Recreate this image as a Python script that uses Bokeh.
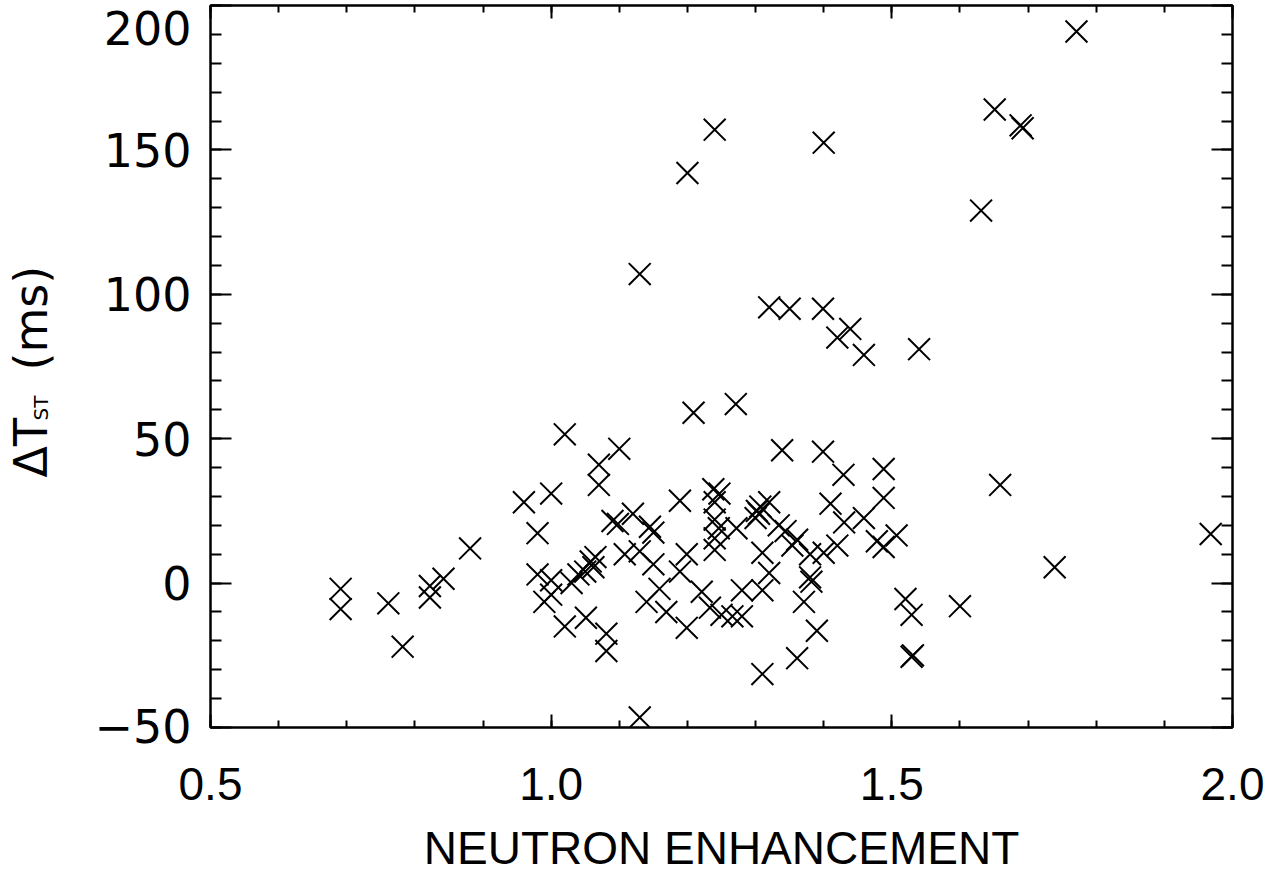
import numpy as np
from bokeh.plotting import figure
from bokeh.models import Range1d, LinearAxis, FixedTicker, ColumnDataSource
from bokeh.embed import file_html
from bokeh.resources import INLINE

# ---- data ----
neutron_enh = [
    1.771, 1.651, 1.689, 1.692, 1.240, 1.400, 1.200, 1.631, 1.130, 1.320,
    1.350, 1.399, 1.439, 1.420, 1.459, 1.540, 1.271, 1.209, 1.020, 1.100,
    1.339, 1.399, 1.070, 1.429, 1.488, 1.070, 1.659, 1.000, 0.960, 1.488,
    1.410, 1.189, 1.238, 1.247, 0.980, 0.980, 1.000, 0.990, 1.000, 1.020,
    1.030, 1.040, 1.050, 1.058, 1.062, 1.065, 1.051, 1.081, 1.081, 1.090,
    1.098, 1.108, 1.120, 1.130, 1.145, 1.150, 1.150, 1.140, 1.159, 1.169,
    1.130, 1.189, 1.199, 1.199, 1.221, 1.233, 1.250, 1.240, 1.240, 1.246,
    1.240, 1.240, 1.266, 1.280, 1.272, 1.280, 1.300, 1.302, 1.305, 1.307,
    1.320, 1.310, 1.320, 1.310, 1.310, 1.334, 1.344, 1.361, 1.354, 1.380,
    1.400, 1.420, 1.430, 1.459, 1.478, 1.488, 1.507, 1.380, 1.382, 1.371,
    1.390, 1.361, 1.520, 1.529, 1.529, 1.531, 1.600, 1.739, 1.968, 0.691,
    0.691, 0.761, 0.782, 0.822, 0.822, 0.842, 0.881,
]
delta_t_st = [
    191, 164, 158.5, 157.5, 157, 152.5, 142, 129, 107, 95.5,
    95, 95, 88, 85, 79, 81, 62, 59, 51.5, 46.5,
    46, 45.5, 41, 37.5, 39.5, 34, 34, 31, 28, 29.5,
    27.5, 28.5, 32.5, 31, 17.3, 3, 1, -6.5, -4, -15,
    0, 3, 4, 7.5, 5.5, 9, -12, -17.5, -23.5, 21.5,
    20.5, 10, 24, 11, 19.5, 17.5, 6.5, -6.5, -2, -10,
    -46.5, 4, 10, -15.5, -3, -8.5, -11, 28, 22, 19,
    15.5, 11.5, -11.5, -11.5, 19, -2.5, 22.5, 25, 24, 26.5,
    28, 10.5, 3.5, -2.5, -31.5, 20, 18, 15, 13, 10,
    10.5, 13, 21, 22.5, 14.5, 12.5, 16.5, 2, 0.5, -6.5,
    -16.5, -26, -5.5, -11, -25.5, -25, -8, 5.5, 17, -2,
    -9, -7, -22, -1, -5, 1.5, 12,
]
x_ticks = [0.5, 1.0, 1.5, 2.0]
x_tick_labels = ["0.5", "1.0", "1.5", "2.0"]
y_ticks = [-50, 0, 50, 100, 150, 200]
y_tick_labels = ["\u221250", "0", "50", "100", "150", "200"]
x_title = "NEUTRON ENHANCEMENT"
y_title_parts = ["\u0394T", "ST", "(ms)"]

X0, X1 = 0.5, 2.0
Y0, Y1 = -50, 200
x_minor = [round(v, 2) for v in np.arange(X0, X1 + 1e-9, 0.1)]
y_minor = list(range(Y0, Y1 + 1, 10))

# ---- layout constants (pixels) ----
W, H = 1270, 872
FL, FR, FT, FB = 210, 1232, 5, 727   # plot frame edges on the page
sx = (FR - FL) / (X1 - X0)           # px per x unit
sy = (FB - FT) / (Y1 - Y0)           # px per y unit

def data_x(px):
    return X0 + (px - FL) / sx

def data_y(py):
    return Y1 - (py - FT) / sy

p = figure(width=W, height=H,
           x_range=Range1d(X0, X1), y_range=Range1d(Y0, Y1),
           output_backend="svg", toolbar_location=None,
           min_border_left=FL, min_border_right=W - FR,
           min_border_top=FT, min_border_bottom=H - FB)
p.grid.visible = False
p.outline_line_color = "black"
p.outline_line_width = 2
p.background_fill_color = "white"
p.border_fill_color = "white"

xt = FixedTicker(ticks=x_ticks, minor_ticks=x_minor)
yt = FixedTicker(ticks=y_ticks, minor_ticks=y_minor)

def style_axis(ax, ticker, major_len, minor_len):
    ax.ticker = ticker
    ax.axis_line_color = "black"
    ax.axis_line_width = 2
    ax.major_tick_in = major_len
    ax.major_tick_out = 0
    ax.minor_tick_in = minor_len
    ax.minor_tick_out = 0
    ax.major_tick_line_width = 2
    ax.minor_tick_line_width = 2
    ax.major_tick_line_color = "black"
    ax.minor_tick_line_color = "black"
    ax.major_label_text_color = None
    ax.major_label_text_font_size = "1px"
    ax.major_label_standoff = 0

style_axis(p.xaxis[0], xt, 13, 7)
style_axis(p.yaxis[0], yt, 21, 11)
top_ax = LinearAxis()
style_axis(top_ax, xt, 13, 7)
p.add_layout(top_ax, "above")
right_ax = LinearAxis()
style_axis(right_ax, yt, 21, 11)
p.add_layout(right_ax, "right")

p.scatter(neutron_enh, delta_t_st, marker="x", size=31,
          line_color="black", line_width=2)

# ---- tick labels and titles as text (drawn above the frame clip) ----
ylab_src = ColumnDataSource(dict(
    x=[data_x(FL - 19)] * len(y_ticks), y=y_ticks, text=y_tick_labels,
    dy=[-2 if t == Y0 else (22 if t == Y1 else 0) for t in y_ticks]))
p.text(x="x", y="y", text="text", y_offset="dy", source=ylab_src,
       text_font={"value": "DejaVu Sans"}, text_font_size={"value": "46px"},
       text_align="right", text_baseline="middle", text_color="black",
       level="overlay")

p.text(x=x_ticks, y=[data_y(783)] * len(x_ticks), text=x_tick_labels,
       text_font={"value": "Liberation Sans"}, text_font_size={"value": "46px"},
       text_align="center", text_baseline="middle", text_color="black",
       level="overlay")
p.text(x=[(X0 + X1) / 2], y=[data_y(847)], text=[x_title],
       text_font={"value": "Liberation Sans"}, text_font_size={"value": "46px"},
       text_align="center", text_baseline="middle", text_color="black",
       level="overlay")

ytitle_px = [30, 40, 30]          # centre line of each part (page x)
ytitle_py = [477, 420, 370]       # start of each part (page y, reading upward)
ytitle_fs = ["46px", "20px", "46px"]
p.text(x=[data_x(v) for v in ytitle_px], y=[data_y(v) for v in ytitle_py],
       text=y_title_parts, text_font_size=ytitle_fs,
       text_font={"value": "DejaVu Sans"}, angle=np.pi / 2,
       text_align="left", text_baseline="middle", text_color="black",
       level="overlay")

open("out.html", "w").write(file_html(p, INLINE))
